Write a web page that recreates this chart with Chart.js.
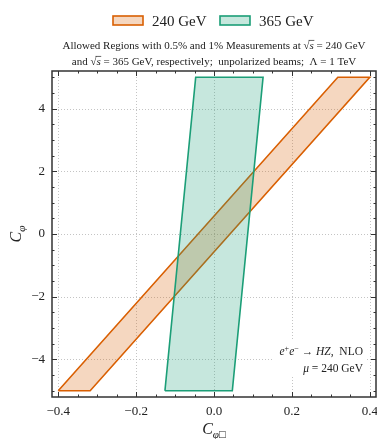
<!DOCTYPE html>
<html>
<head>
<meta charset="utf-8">
<script src="https://cdn.jsdelivr.net/npm/chart.js@4/dist/chart.umd.min.js"></script>
<style>
  html, body { margin:0; padding:0; background:#fff; }
  canvas { display:block; }
</style>
</head>
<body>
<canvas id="c" width="377" height="439"></canvas>
<script>
// polygon corners of the allowed regions (closed: first point repeated)
const SERIES = ['240 GeV', '365 GeV'];
const REGION240_X = [-0.400, -0.318, 0.400, 0.318, -0.400];
const REGION240_Y = [-5, -5, 5, 5, -5];
const REGION365_X = [-0.126, 0.047, 0.126, -0.047, -0.126];
const REGION365_Y = [-5, -5, 5, 5, -5];

// axes
const X_MIN = -0.416, X_MAX = 0.416;
const Y_MIN = -5.2, Y_MAX = 5.2;
const X_TICKS = [-0.4, -0.2, 0.0, 0.2, 0.4];
const X_TICK_LABELS = ['\u22120.4', '\u22120.2', '0.0', '0.2', '0.4'];
const Y_TICKS = [-4, -2, 0, 2, 4];
const Y_TICK_LABELS = ['\u22124', '\u22122', '0', '2', '4'];
const X_MINOR = [-0.35, -0.3, -0.25, -0.15, -0.1, -0.05, 0.05, 0.1, 0.15, 0.25, 0.3, 0.35];
const Y_MINOR = [-5, -4.5, -3.5, -3, -2.5, -1.5, -1, -0.5, 0.5, 1, 1.5, 2.5, 3, 3.5, 4.5, 5];

const ORANGE = '#d95f02', GREEN = '#1b9e77';
const SERIF = '"Liberation Serif", "DejaVu Serif", serif';

function pts(xs, ys){ return xs.map((x,i) => ({x, y: ys[i]})); }

// draw a sequence of text runs (italic / sup / sub / overline)
function drawRuns(ctx, runs, x, y, size, align){
  const fontOf = r => (r.it ? 'italic ' : '') + ((r.sup||r.sub) ? size*0.7 : size) + 'px ' + SERIF;
  let total = 0;
  runs.forEach(r => { ctx.font = fontOf(r); r.w = ctx.measureText(r.t).width; total += r.w; });
  let cx = align === 'right' ? x - total : align === 'center' ? x - total/2 : x;
  ctx.textAlign = 'left';
  ctx.textBaseline = 'alphabetic';
  runs.forEach(r => {
    ctx.font = fontOf(r);
    const dy = r.sup ? -size*0.38 : r.sub ? size*0.28 : 0;
    ctx.fillText(r.t, cx, y + dy);
    if (r.over) {
      ctx.save(); ctx.lineWidth = 0.7; ctx.strokeStyle = ctx.fillStyle;
      ctx.beginPath(); ctx.moveTo(cx - 1, y - size*0.78); ctx.lineTo(cx + r.w + 0.5, y - size*0.78); ctx.stroke();
      ctx.restore();
    }
    cx += r.w;
  });
}

const decor = {
  id: 'decor',
  beforeDatasetsDraw(chart){
    const {ctx, chartArea: a, scales: {x, y}} = chart;
    ctx.save();
    ctx.strokeStyle = '#b5b5b5'; ctx.lineWidth = 0.8; ctx.setLineDash([1, 2]);
    X_TICKS.forEach(v => { const p = Math.round(x.getPixelForValue(v)) + 0.5;
      ctx.beginPath(); ctx.moveTo(p, a.top); ctx.lineTo(p, a.bottom); ctx.stroke(); });
    Y_TICKS.forEach(v => { const p = Math.round(y.getPixelForValue(v)) + 0.5;
      ctx.beginPath(); ctx.moveTo(a.left, p); ctx.lineTo(a.right, p); ctx.stroke(); });
    ctx.restore();
  },
  afterDatasetsDraw(chart){
    const {ctx, chartArea: a, scales: {x, y}} = chart;
    ctx.save();
    // annotation with white box
    ctx.fillStyle = '#fff';
    ctx.fillRect(274, 341, 92, 36);
    ctx.fillStyle = '#222';
    drawRuns(ctx, [{t:'e',it:1},{t:'+',sup:1},{t:'e',it:1},{t:'\u2212',sup:1},{t:' \u2192 '},{t:'HZ',it:1},{t:',  NLO'}], 363, 355, 11.5, 'right');
    drawRuns(ctx, [{t:'\u03bc',it:1},{t:' = 240 GeV'}], 363, 372, 11.5, 'right');

    // frame
    ctx.strokeStyle = '#333'; ctx.lineWidth = 1.5;
    ctx.strokeRect(a.left, a.top, a.right - a.left, a.bottom - a.top);
    // inward ticks on all sides
    ctx.lineWidth = 1;
    const tick = (x0, y0, x1, y1) => { ctx.beginPath(); ctx.moveTo(x0, y0); ctx.lineTo(x1, y1); ctx.stroke(); };
    X_TICKS.forEach(v => { const p = Math.round(x.getPixelForValue(v)) + 0.5;
      tick(p, a.bottom, p, a.bottom - 5); tick(p, a.top, p, a.top + 5); });
    X_MINOR.forEach(v => { const p = Math.round(x.getPixelForValue(v)) + 0.5;
      tick(p, a.bottom, p, a.bottom - 2.5); tick(p, a.top, p, a.top + 2.5); });
    Y_TICKS.forEach(v => { const p = Math.round(y.getPixelForValue(v)) + 0.5;
      tick(a.left, p, a.left + 5, p); tick(a.right, p, a.right - 5, p); });
    Y_MINOR.forEach(v => { const p = Math.round(y.getPixelForValue(v)) + 0.5;
      tick(a.left, p, a.left + 2.5, p); tick(a.right, p, a.right - 2.5, p); });

    // axis titles
    ctx.fillStyle = '#222';
    const cx = (a.left + a.right) / 2;
    drawRuns(ctx, [{t:'C',it:1},{t:'\u03c6\u25a1',it:1,sub:1}], cx, 434, 16, 'center');
    ctx.save();
    ctx.translate(21, (a.top + a.bottom) / 2);
    ctx.rotate(-Math.PI / 2);
    drawRuns(ctx, [{t:'C',it:1},{t:'\u03c6',it:1,sub:1}], 0, 0, 16, 'center');
    ctx.restore();

    // legend
    const legend = [[SERIES[0], ORANGE, 'rgba(217,95,2,0.25)', cx - 101], [SERIES[1], GREEN, 'rgba(27,158,119,0.25)', cx + 6]];
    legend.forEach(([label, edge, fill, lx]) => {
      ctx.fillStyle = '#fff'; ctx.fillRect(lx, 16, 30, 9);
      ctx.fillStyle = fill; ctx.fillRect(lx, 16, 30, 9);
      ctx.strokeStyle = edge; ctx.lineWidth = 1.6; ctx.strokeRect(lx, 16, 30, 9);
      ctx.fillStyle = '#222';
      drawRuns(ctx, [{t:label}], lx + 39, 26, 15, 'left');
    });

    // title
    drawRuns(ctx, [{t:'Allowed Regions with 0.5% and 1% Measurements at \u221a'},{t:'s',it:1,over:1},{t:' = 240 GeV'}], cx, 49, 11, 'center');
    drawRuns(ctx, [{t:'and \u221a'},{t:'s',it:1,over:1},{t:' = 365 GeV, respectively;  unpolarized beams;  \u039b = 1 TeV'}], cx, 65, 11, 'center');
    ctx.restore();
  }
};

new Chart(document.getElementById('c'), {
  type: 'scatter',
  data: {
    datasets: [
      { label: SERIES[0], data: pts(REGION240_X, REGION240_Y), showLine: true, fill: 'shape',
        borderColor: ORANGE, backgroundColor: 'rgba(217,95,2,0.25)', borderWidth: 1.6,
        borderJoinStyle: 'miter', pointRadius: 0, tension: 0, order: 2 },
      { label: SERIES[1], data: pts(REGION365_X, REGION365_Y), showLine: true, fill: 'shape',
        borderColor: GREEN, backgroundColor: 'rgba(27,158,119,0.25)', borderWidth: 1.6,
        borderJoinStyle: 'miter', pointRadius: 0, tension: 0, order: 1 }
    ]
  },
  options: {
    responsive: false,
    animation: false,
    devicePixelRatio: 1,
    layout: { padding: { top: 71, right: 1, left: 0, bottom: 0 } },
    plugins: { legend: { display: false }, title: { display: false }, tooltip: { enabled: false } },
    scales: {
      x: {
        type: 'linear', min: X_MIN, max: X_MAX,
        grid: { display: false, drawTicks: false }, border: { display: false },
        afterBuildTicks: s => { s.ticks = X_TICKS.map(v => ({ value: v })); },
        afterFit: s => { s.height = 42; s.paddingLeft = 0; s.paddingRight = 0; },
        ticks: { padding: 7, color: '#222', font: { family: SERIF, size: 13 },
          maxRotation: 0, autoSkip: false,
          callback: v => X_TICK_LABELS[X_TICKS.findIndex(t => Math.abs(t - v) < 1e-9)] }
      },
      y: {
        type: 'linear', min: Y_MIN, max: Y_MAX,
        grid: { display: false, drawTicks: false }, border: { display: false },
        afterBuildTicks: s => { s.ticks = Y_TICKS.map(v => ({ value: v })); },
        afterFit: s => { s.width = 52; s.paddingTop = 0; s.paddingBottom = 0; },
        ticks: { padding: 7, color: '#222', font: { family: SERIF, size: 13 }, autoSkip: false,
          callback: v => Y_TICK_LABELS[Y_TICKS.findIndex(t => Math.abs(t - v) < 1e-9)] }
      }
    }
  },
  plugins: [decor]
});
</script>
</body>
</html>
